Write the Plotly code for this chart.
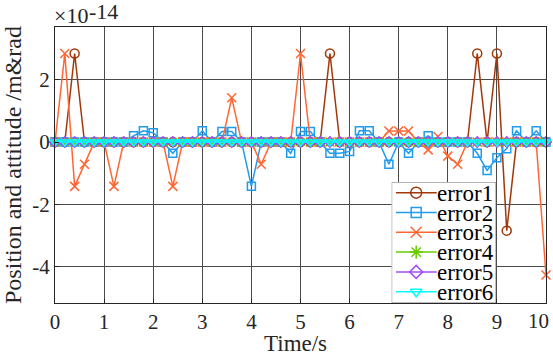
import plotly.graph_objects as go

# sample times (s)
TIME = [0.0, 0.2, 0.4, 0.6, 0.8, 1.0, 1.2, 1.4, 1.6, 1.8,
        2.0, 2.2, 2.4, 2.6, 2.8, 3.0, 3.2, 3.4, 3.6, 3.8,
        4.0, 4.2, 4.4, 4.6, 4.8, 5.0, 5.2, 5.4, 5.6, 5.8,
        6.0, 6.2, 6.4, 6.6, 6.8, 7.0, 7.2, 7.4, 7.6, 7.8,
        8.0, 8.2, 8.4, 8.6, 8.8, 9.0, 9.2, 9.4, 9.6, 9.8,
        10.0]

# errors, in units of 1e-14
ERROR1 = [0, 0, 2.84, 0, 0, 0, 0, 0, 0, 0,
          0, 0, 0, 0, 0, 0, 0, 0, 0, 0,
          0, 0, 0, 0, 0, 0, 0, 0, 2.84, 0,
          0, 0, 0, 0, 0, 0, 0, 0, 0, 0,
          0, 0, 0, 2.84, 0, 2.84, -2.84, 0, 0, 0,
          0]
ERROR2 = [0, 0, 0, 0, 0, 0, 0, 0, 0.2, 0.36,
          0.3, 0, -0.36, 0, 0, 0.36, 0, 0.34, 0.34, 0,
          -1.42, 0, 0, 0, -0.36, 0.34, 0.34, 0, -0.36, -0.36,
          -0.3, 0.36, 0.36, 0, -0.71, 0, -0.36, 0, 0.2, 0,
          0, 0, 0, -0.36, -0.91, -0.5, -0.21, 0.36, 0, 0.36,
          0]
ERROR3 = [0, 2.84, -1.42, -0.71, 0, 0, -1.42, 0, 0, 0,
          0, 0, -1.42, 0, 0, 0, 0, 0, 1.42, 0,
          0, -0.71, 0, 0, 0, 2.84, 0, 0, 0, 0,
          0, 0, 0, 0, 0.355, 0.355, 0.355, 0, -0.25, 0.18,
          -0.45, -0.71, 0, 0, 0, 0, 0, 0, 0, 0,
          -4.26]
ERROR4 = [0, 0, 0, 0, 0, 0, 0, 0, 0, 0,
          0, 0, 0, 0, 0, 0, 0, 0, 0, 0,
          0, 0, 0, 0, 0, 0, 0, 0, 0, 0,
          0, 0, 0, 0, 0, 0, 0, 0, 0, 0,
          0, 0, 0, 0, 0, 0, 0, 0, 0, 0,
          0]
ERROR5 = list(ERROR4)
ERROR6 = list(ERROR4)

NAMES = ["error1", "error2", "error3", "error4", "error5", "error6"]
YTICKS = [-4, -2, 0, 2]
YTICK_TEXT = ["-4", "-2", "0", "2"]
XTICKS = [0, 1, 2, 3, 4, 5, 6, 7, 8, 9, 10]
# the "10" is written separately (nudged left to stay inside the figure)
XTICK_TEXT = ["0", "1", "2", "3", "4", "5", "6", "7", "8", "9", ""]

series = [ERROR1, ERROR2, ERROR3, ERROR4, ERROR5, ERROR6]
colors = ["#A0380A", "#1F9BEF", "#FF6633", "#66CC00", "#A64DF0", "#00FFFF"]
symbols = ["circle-open", "square-open", "x-thin-open", "asterisk-open",
           "diamond-open", "triangle-down-open"]
sizes = [9, 8, 9, 9, 8, 8]

FONT = "Liberation Serif, Times New Roman, Tinos, DejaVu Serif, serif"
TXT = "#262626"

fig = go.Figure()

for name, ys, c, s, sz in zip(NAMES, series, colors, symbols, sizes):
    fig.add_trace(
        go.Scatter(
            x=TIME, y=ys, name=name, mode="lines+markers",
            line=dict(color=c, width=1.5),
            marker=dict(symbol=s, size=sz, color=c, line=dict(color=c, width=1.5)),
            cliponaxis=False, showlegend=False,
        )
    )

# hand-built legend in its own little axes (box is 104 x 120 px)
BOX_W, BOX_H = 104.3, 120.7
fig.add_trace(
    go.Scatter(
        x=[0, BOX_W, BOX_W, 0, 0], y=[0, 0, BOX_H, BOX_H, 0],
        xaxis="x2", yaxis="y2", mode="lines", fill="toself",
        fillcolor="white", line=dict(color="#808080", width=1),
        cliponaxis=False, showlegend=False, hoverinfo="skip",
    )
)
for i, (name, c, s, sz) in enumerate(zip(NAMES, colors, symbols, sizes)):
    yr = BOX_H - (10.4 + 19.8 * i)
    fig.add_trace(
        go.Scatter(
            x=[4.3, 45], y=[yr, yr], xaxis="x2", yaxis="y2", mode="lines",
            line=dict(color=c, width=1.5), showlegend=False, hoverinfo="skip",
        )
    )
    fig.add_trace(
        go.Scatter(
            x=[24.5], y=[yr], xaxis="x2", yaxis="y2", mode="markers",
            marker=dict(symbol=s, size=sz + 2, color=c, line=dict(color=c, width=1.5)),
            showlegend=False, hoverinfo="skip",
        )
    )
    fig.add_annotation(
        x=44, y=yr, xref="x2", yref="y2", text=name, showarrow=False,
        xanchor="left", yanchor="middle", height=16, borderpad=0,
        font=dict(family=FONT, size=23, color="black"),
    )

# exponent label above the axes
fig.add_annotation(
    x=0, y=1.04, xref="paper", yref="paper", text="×10", showarrow=False,
    xanchor="left", yanchor="middle", xshift=-3,
    font=dict(family=FONT, size=22, color=TXT),
)
fig.add_annotation(
    x=0.065, y=1.055, xref="paper", yref="paper", text="-14", showarrow=False,
    xanchor="left", yanchor="middle",
    font=dict(family=FONT, size=22, color=TXT),
)
# last x tick label
fig.add_annotation(
    x=0.9857, y=0, xref="paper", yref="paper", text="10", showarrow=False,
    xanchor="center", yanchor="top", yshift=-4,
    font=dict(family=FONT, size=21, color=TXT),
)
# x title, sits a little left of centre in the original
fig.add_annotation(
    x=0.489, y=-0.145, xref="paper", yref="paper", text="Time/s", showarrow=False,
    xanchor="center", yanchor="middle", height=22,
    font=dict(family=FONT, size=23, color=TXT),
)

axis_common = dict(
    showgrid=True, gridcolor="#4a4a4a", gridwidth=1,
    showline=True, linecolor=TXT, linewidth=1, mirror=True,
    ticks="inside", ticklen=4, tickcolor=TXT,
    zeroline=False, automargin=False,
    tickfont=dict(family=FONT, size=21, color=TXT),
)

fig.update_layout(
    width=553, height=355,
    margin=dict(l=55, r=7, t=27, b=52, autoexpand=False),
    paper_bgcolor="white", plot_bgcolor="white",
    font=dict(family=FONT),
    xaxis=dict(
        range=[0, 10], tickvals=XTICKS, ticktext=XTICK_TEXT,
        **axis_common,
    ),
    yaxis=dict(
        range=[-5.16, 3.69], tickvals=YTICKS, ticktext=YTICK_TEXT,
        title=dict(text="Position and attitude /m&rad",
                   font=dict(family=FONT, size=24, color=TXT), standoff=4),
        **axis_common,
    ),
    xaxis2=dict(domain=[0.6857, 0.8982], range=[0, BOX_W], anchor="y2",
                visible=False, fixedrange=True),
    yaxis2=dict(domain=[0, 0.4373], range=[0, BOX_H], anchor="x2",
                visible=False, fixedrange=True),
    showlegend=False,
)

fig.write_html(
    "out.html",
    config={"displayModeBar": False},
    post_script="document.body.style.margin='0';",
)
